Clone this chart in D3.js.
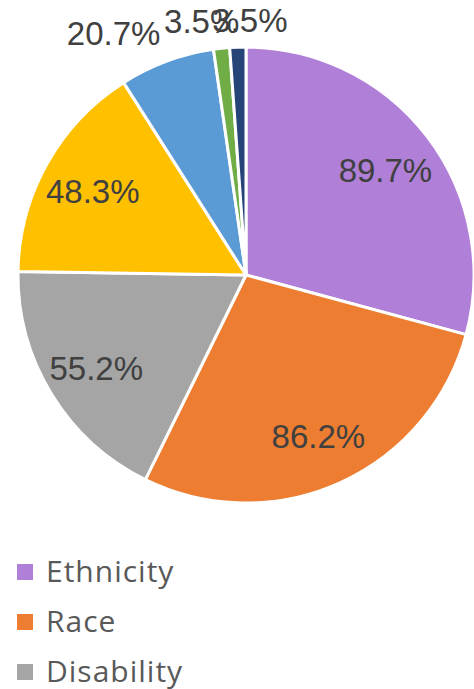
<!DOCTYPE html>
<html>
<head>
<meta charset="utf-8">
<script src="https://cdn.jsdelivr.net/npm/d3@7"></script>
<style>
  body { margin: 0; background: #fff; }
  svg { display: block; }
</style>
</head>
<body>
<script>
// slice data, clockwise from 12 o'clock
var categories = ["Ethnicity", "Race", "Disability", "Gender", "Age", "Religion", "Other"];
var values = [89.7, 86.2, 55.2, 48.3, 20.7, 3.5, 3.5];
var colors = ["#B07FD8", "#ED7D31", "#A5A5A5", "#FFC000", "#5B9BD5", "#70AD47", "#264478"];

var width = 474, height = 689;
var cx = 246, cy = 275, r = 228;

var svg = d3.select("body").append("svg")
        .attr("width", width)
        .attr("height", height);

var pie = d3.pie().sort(null).value(function(d) { return d; });
var arcs = pie(values);

var arc = d3.arc().innerRadius(0).outerRadius(r);

var g = svg.append("g").attr("transform", "translate(" + cx + "," + cy + ")");

g.selectAll("path")
        .data(arcs)
        .enter().append("path")
        .attr("d", arc)
        .attr("fill", function(d, i) { return colors[i]; })
        .attr("stroke", "#fff")
        .attr("stroke-width", 3)
        .attr("stroke-linejoin", "round");

// labels: big slices inside, thin ones outside
var inner = d3.arc().innerRadius(r * 0.77).outerRadius(r * 0.77);
var outer = d3.arc().innerRadius(255).outerRadius(255);

g.selectAll("text.lbl")
        .data(arcs)
        .enter().append("text")
        .attr("class", "lbl")
        .attr("font-family", "'Liberation Sans Narrow', 'Liberation Sans', sans-serif")
        .attr("font-size", 33)
        .attr("fill", "#404040")
        .attr("dominant-baseline", "central")
        .attr("text-anchor", function(d) {
            var f = (d.endAngle - d.startAngle) / (2 * Math.PI);
            if (f > 0.1) return "middle";
            return f > 0.03 ? "end" : "middle";
        })
        .attr("transform", function(d, i) {
            var f = (d.endAngle - d.startAngle) / (2 * Math.PI);
            var p = f > 0.1 ? inner.centroid(d) : outer.centroid(d);
            if (f > 0.1) { p = [p[0], p[1] + 2]; }
            if (f <= 0.1 && f > 0.03) { p = [p[0] + 3, p[1] - 2]; }
            if (f <= 0.03) { p = [p[0] + (i == 5 ? -17 : 13), p[1]]; }
            return "translate(" + p[0] + "," + p[1] + ")";
        })
        .text(function(d) { return d.value.toFixed(1) + "%"; });

// legend (runs past the bottom of the frame)
var legend = svg.selectAll("g.leg")
        .data(categories)
        .enter().append("g")
        .attr("class", "leg")
        .attr("transform", function(d, i) { return "translate(17," + (564 + i * 50) + ")"; });

legend.append("rect")
        .attr("width", 16)
        .attr("height", 16)
        .attr("fill", function(d, i) { return colors[i]; });

legend.append("text")
        .attr("x", 29)
        .attr("y", 18)
        .attr("font-family", "'Open Sans', sans-serif")
        .attr("font-size", 30)
        .attr("letter-spacing", 1)
        .attr("fill", "#595959")
        .text(function(d) { return d; });
</script>
</body>
</html>
